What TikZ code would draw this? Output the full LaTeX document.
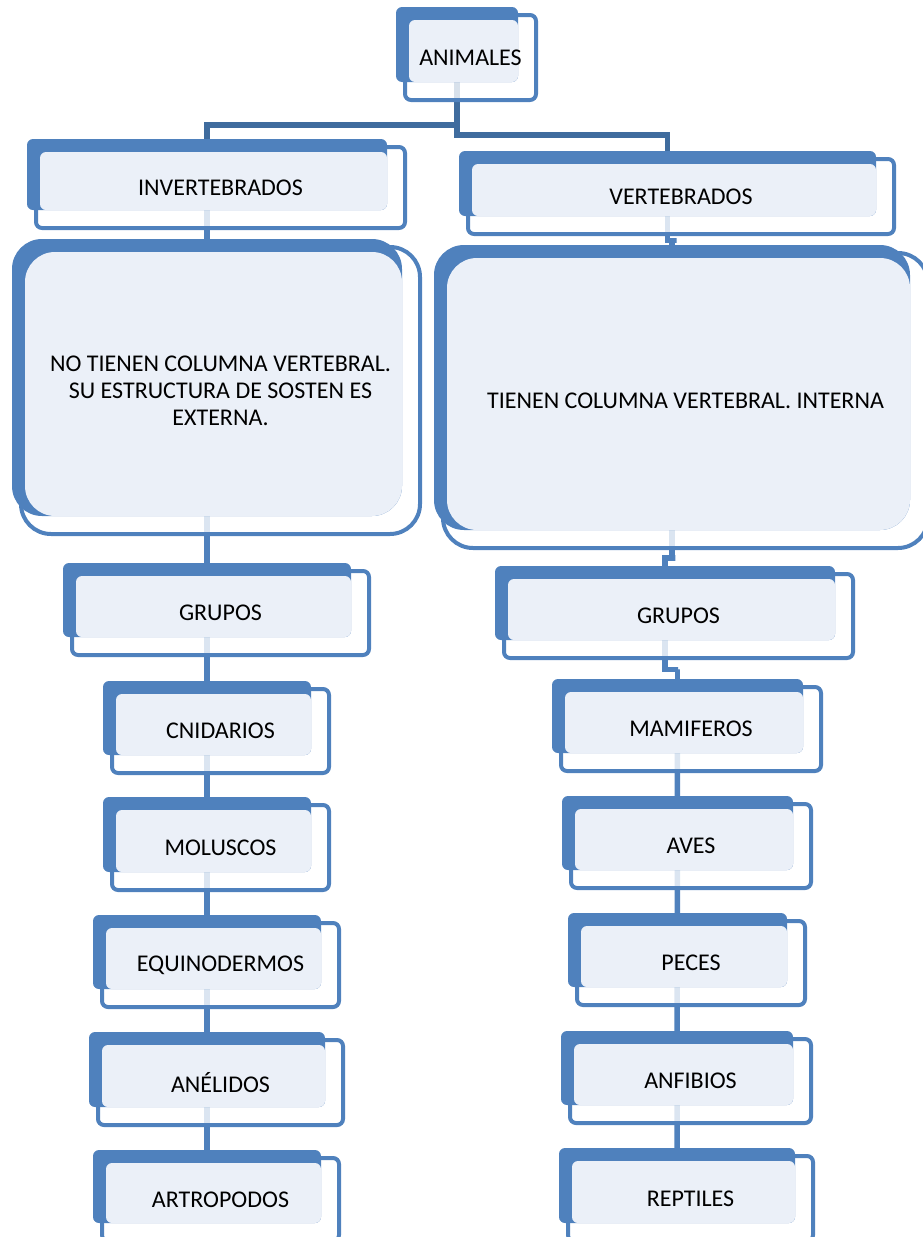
\documentclass[tikz,border=0pt]{standalone}
\usepackage{fontspec}
\setmainfont{Carlito}
\usetikzlibrary{calc}

\definecolor{azul}{HTML}{4F81BD}
\definecolor{azuloscuro}{HTML}{3F6C9E}
\definecolor{celeste}{HTML}{EBF0F8}

\pgfdeclarelayer{fondo}
\pgfsetlayers{fondo,main}

\tikzset{
  atras/.style={fill=azul, inner sep=0pt},
  luz/.style={fill=celeste},
  velo/.style={fill=white, fill opacity=.8},
  marco/.style={draw=azul, line width=4pt, inner sep=0pt, align=center,
    font=\fontsize{24}{27}\selectfont},
  conector/.style={draw=azul, line width=5.5pt},
  rama/.style={draw=azuloscuro, line width=5.5pt},
}

% caja: [radio] nombre, x0, y0, x1, y1, texto
\newcommand{\caja}[7][6]{%
  \fill[velo, rounded corners=#1] (#3+9,#4+8) rectangle (#5+18,#6+18);
  \node[atras, rounded corners=#1, minimum width=#5-#3, minimum height=#6-#4]
    (b-#2) at ({(#3+#5)/2},{(#4+#6)/2}) {};
  \fill[luz, rounded corners=#1] (#3+13,#4+13) rectangle (#5,#6);
  \node[marco, rounded corners=#1, minimum width=#5-#3+9, minimum height=#6-#4+10]
    (#2) at ({(#3+#5+27)/2},{(#4+#6+26)/2}) {#7};
}

\begin{document}
\begin{tikzpicture}[x=1pt, y=-1pt]
\useasboundingbox (0,0) rectangle (922,1237);

\caja{anim}{396}{7}{518}{82}{ANIMALES}
\caja{inv}{27}{139}{387}{210}{INVERTEBRADOS}
\caja{vert}{459}{151}{876}{216}{VERTEBRADOS}
\caja[30]{nocol}{12}{239}{402}{516}{NO TIENEN COLUMNA VERTEBRAL.\\SU ESTRUCTURA DE SOSTEN ES\\EXTERNA.}
\caja[30]{col}{434}{245}{910}{530}{TIENEN COLUMNA VERTEBRAL. INTERNA}
\caja{grupi}{63}{563}{351}{637}{GRUPOS}
\caja{grupd}{495}{566}{835}{640}{GRUPOS}

% invertebrados
\caja{cnid}{103}{681}{311}{755}{CNIDARIOS}
\caja{mol}{103}{797}{311}{872}{MOLUSCOS}
\caja{equi}{93}{915}{321}{989}{EQUINODERMOS}
\caja{anel}{89}{1032}{325}{1107}{ANÉLIDOS}
\caja{artr}{93}{1150}{321}{1223}{ARTROPODOS}

% vertebrados
\caja{mam}{552}{679}{803}{753}{MAMIFEROS}
\caja{aves}{562}{796}{793}{870}{AVES}
\caja{peces}{568}{913}{787}{987}{PECES}
\caja{anf}{561}{1031}{793}{1105}{ANFIBIOS}
\caja{rept}{559}{1148}{795}{1223}{REPTILES}

\coordinate (bifizq) at (0,125);
\coordinate (bifder) at (0,135);

\begin{pgfonlayer}{fondo}
  \draw[rama] (b-anim.center) -- (b-anim |- bifizq) -| (b-inv.north);
  \draw[rama] (b-anim.center) -- (b-anim |- bifder) -| (b-vert.north);
  \draw[conector] (b-inv.center) -- (b-artr.center);
  \draw[conector] (b-mam.center) -- (b-rept.center);
  \foreach \a/\b in {vert/col, col/grupd, grupd/mam}
    \draw[conector] (b-\a.center) |- ($(\a.south)!.5!(b-\b.north)$) -| (b-\b.center);
\end{pgfonlayer}
\end{tikzpicture}
\end{document}
